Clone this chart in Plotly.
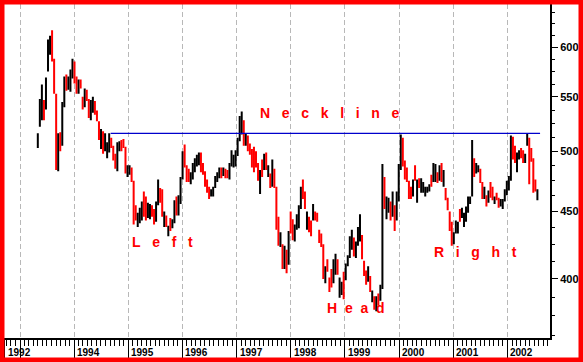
import math
import pandas as pd
import plotly.graph_objects as go

# ---- data ----
start_date = "1993-05-01"
end_date = "2002-07-22"

open_ = [505,525,530,545,540,578,596,612,585,550,490,514,508,542,565,560,565,572,583,566,
         556,565,548,542,555,546,531,538,545,536,526,505,515,502,496,502,510,504,496,486,
         502,508,509,503,480,482,485,474,452,440,443,445,463,460,447,446,454,450,444,458,
         466,465,440,446,433,443,438,443,460,450,458,477,504,486,483,474,478,484,490,491,
         497,488,481,474,468,463,463,470,476,479,484,480,484,483,478,489,488,489,498,511,
         518,526,507,512,505,500,502,497,488,466,491,486,496,480,479,472,483,469,444,425,
         423,409,419,412,447,442,429,438,440,454,474,464,438,444,441,445,448,447,434,431,
         423,399,412,399,405,399,405,412,389,390,403,401,411,417,423,428,417,426,430,430,
         411,404,400,400,386,386,380,389,387,395,475,446,451,456,448,453,446,460,486,510,
         490,484,473,468,464,486,459,476,467,467,464,466,467,478,476,476,480,477,488,472,
         467,459,448,440,427,435,436,450,447,440,444,451,457,464,492,482,483,483,472,462,
         461,459,472,468,457,464,459,455,454,460,465,469,477,511,503,485,494,502,499,491,
         507,510,501,492,474,460]
high = [516,548,562,547,569,608,612,618,588,553,516,517,545,570,572,570,577,588,585,570,
        567,567,550,558,557,548,547,550,546,537,527,520,518,516,508,516,512,505,498,508,
        509,510,511,504,488,488,486,475,455,449,453,458,466,462,457,456,455,452,458,476,
        469,468,450,447,439,445,444,459,462,463,478,500,506,488,485,482,490,494,497,499,
        499,490,483,476,470,468,470,479,482,486,486,486,485,484,490,501,497,501,512,532,
        536,528,516,514,507,502,504,500,490,484,493,498,499,488,481,493,485,470,446,434,
        425,424,421,435,450,444,440,448,455,470,476,466,450,446,443,456,450,449,436,433,
        425,409,414,401,407,414,418,414,401,398,405,411,417,431,436,430,427,438,448,432,
        413,406,409,402,392,388,388,390,396,489,478,462,461,458,466,455,466,489,515,512,
        492,486,475,470,476,488,476,477,477,474,470,470,472,480,490,489,482,488,490,484,
        469,461,450,442,434,443,442,452,453,449,454,462,462,510,494,490,488,485,474,470,
        463,467,474,470,462,465,461,460,460,468,475,479,514,513,505,499,501,503,501,498,
        516,512,503,494,476,468]
low = [503,522,528,528,538,575,592,585,553,484,483,500,505,540,556,557,555,568,563,553,
       553,558,538,540,546,530,528,535,533,527,510,502,498,500,494,499,503,492,485,483,
       500,500,503,481,478,480,474,440,443,438,441,443,446,443,445,444,446,440,442,455,
       457,446,438,438,431,435,437,441,447,447,456,476,486,474,474,472,476,482,487,488,
       482,480,470,465,460,462,462,469,474,477,477,479,477,477,476,487,486,487,496,509,
       515,505,505,500,497,486,482,486,475,464,478,484,484,478,469,470,469,436,424,423,
       407,407,404,410,433,428,427,436,437,452,460,452,436,434,431,443,443,442,426,423,
       400,397,405,391,394,397,403,403,387,389,386,399,409,415,421,416,415,424,427,414,
       402,396,398,391,384,379,378,382,385,393,452,444,449,443,446,435,443,458,484,487,
       476,474,460,460,462,475,457,469,465,465,462,465,466,470,474,474,473,475,474,470,
       459,451,435,424,425,433,433,442,445,438,442,449,456,462,478,481,482,473,460,460,
       454,457,461,459,456,459,453,454,452,458,463,467,475,493,490,482,493,494,490,490,
       505,472,491,465,466,459]
close = [514,545,555,535,565,600,605,590,556,500,510,503,540,567,560,566,572,585,567,558,
         562,560,540,555,548,533,543,548,537,529,512,517,500,513,505,513,505,494,487,505,
         507,503,505,484,486,485,476,445,446,447,450,456,448,446,455,453,448,442,455,472,
         460,449,447,440,438,437,443,457,450,460,475,497,489,477,476,480,488,492,495,497,
         485,482,472,467,462,467,468,477,480,484,480,485,479,478,488,499,495,499,510,528,
         532,508,514,503,499,489,490,489,478,480,481,495,487,486,471,490,472,440,427,432,
         410,420,406,432,437,431,437,446,452,467,464,455,447,437,433,453,445,444,428,425,
         404,406,407,393,396,411,416,405,398,396,390,409,415,428,433,419,424,436,445,416,
         404,398,407,393,390,381,386,384,394,480,455,458,459,446,463,438,463,485,510,490,
         479,477,463,462,474,478,473,471,474,472,468,469,471,472,488,486,475,486,477,481,
         461,453,438,427,432,441,440,444,451,447,452,460,461,500,481,488,487,475,463,468,
         456,465,464,461,461,460,455,459,458,466,473,477,510,496,493,496,500,496,492,497,
         514,500,494,470,468,464]

neckline_dates = ["1994-09-04", "2002-08-09"]
neckline_value = [516, 516]

y_tick_values = [400, 450, 500, 550, 600]
x_tick_dates = ["1992-09-20", "1993-01-01", "1994-01-01", "1995-01-01", "1996-01-01",
                "1997-01-01", "1998-01-01", "1999-01-01", "2000-01-01", "2001-01-01",
                "2002-01-01"]
x_tick_labels = ["1992", "", "1994", "1995", "1996", "1997", "1998", "1999", "2000",
                 "2001", "2002"]

pattern_words = ["Neckline", "Left", "Head", "Right"]
pattern_gaps = [3, 3, 2, 3]
pattern_x = ["1998-09-19", "1995-08-20", "1999-03-20", "2001-05-31"]
pattern_y = [535, 427, 380, 419]

dates = pd.date_range(start_date, end_date, periods=len(close))

# ---- figure ----
fig = go.Figure()
fig.add_trace(go.Ohlc(
    x=dates, open=open_, high=high, low=low, close=close,
    increasing=dict(line=dict(color="black", width=2)),
    decreasing=dict(line=dict(color="#ff0000", width=2)),
    tickwidth=0.35, hoverinfo="skip", showlegend=False,
))
fig.add_trace(go.Scatter(
    x=neckline_dates, y=neckline_value, mode="lines",
    line=dict(color="#0000cc", width=1.3), hoverinfo="skip", showlegend=False,
))

lab_font = dict(family="Liberation Sans", size=14, color="#ff0000", weight="bold")
for word, gap, xd, yv in zip(pattern_words, pattern_gaps, pattern_x, pattern_y):
    txt = ("\u00a0" * gap).join(word)
    # log axis: annotation y is given as log10 of the value
    fig.add_annotation(x=xd, y=math.log10(yv), text=txt, showarrow=False, font=lab_font,
                       xanchor="center", yanchor="middle")

for xd, txt in zip(x_tick_dates, x_tick_labels):
    if txt:
        fig.add_annotation(x=xd, y=0, yref="paper", text=txt, showarrow=False,
                           xanchor="left", yanchor="middle", xshift=1, yshift=-14,
                           font=dict(family="Liberation Sans", size=10, color="black",
                                     weight="bold"))

# red frame
W, H = 583, 362
L, R, T, B = 4, 33, 4, 24
pw, ph = W - L - R, H - T - B
def px(xp):
    return (xp - L) / pw
def py(yp):
    return (H - B - yp) / ph
fig.add_shape(type="rect", xref="paper", yref="paper",
              x0=px(2.25), x1=px(580.75), y0=py(359.75), y1=py(2.25),
              line=dict(color="#ff0000", width=4.5), fillcolor="rgba(0,0,0,0)",
              layer="above")

fig.update_layout(
    width=W, height=H,
    margin=dict(l=L, r=R, t=T, b=B, pad=0),
    paper_bgcolor="white", plot_bgcolor="white",
    showlegend=False,
    xaxis=dict(
        type="date",
        range=["1992-09-15", "2002-10-15"],
        rangeslider=dict(visible=False),
        tickmode="array", tickvals=x_tick_dates, showticklabels=False,
        ticks="outside", ticklen=19, tickwidth=1, tickcolor="black",
        showline=True, linecolor="black", linewidth=2,
        showgrid=True, gridcolor="#b8b8b8", gridwidth=1, griddash="5px,3px",
        zeroline=False,
        minor=dict(dtick="M1", tick0="1992-01-01", ticks="outside", ticklen=6,
                   tickcolor="black", tickwidth=1, showgrid=False),
    ),
    yaxis=dict(
        type="log", side="right",
        range=[2.5572, 2.8109],
        tickmode="array", tickvals=y_tick_values,
        ticks="outside", ticklen=6, tickwidth=1, tickcolor="black",
        showline=True, linecolor="black", linewidth=2,
        showgrid=False, zeroline=False,
        tickfont=dict(family="Liberation Sans", size=11, color="black", weight="bold"),
        minor=dict(dtick="L12.5", tick0=0, ticks="outside", ticklen=3,
                   tickcolor="black", tickwidth=1, showgrid=False),
    ),
)

fig.write_html("out.html")
